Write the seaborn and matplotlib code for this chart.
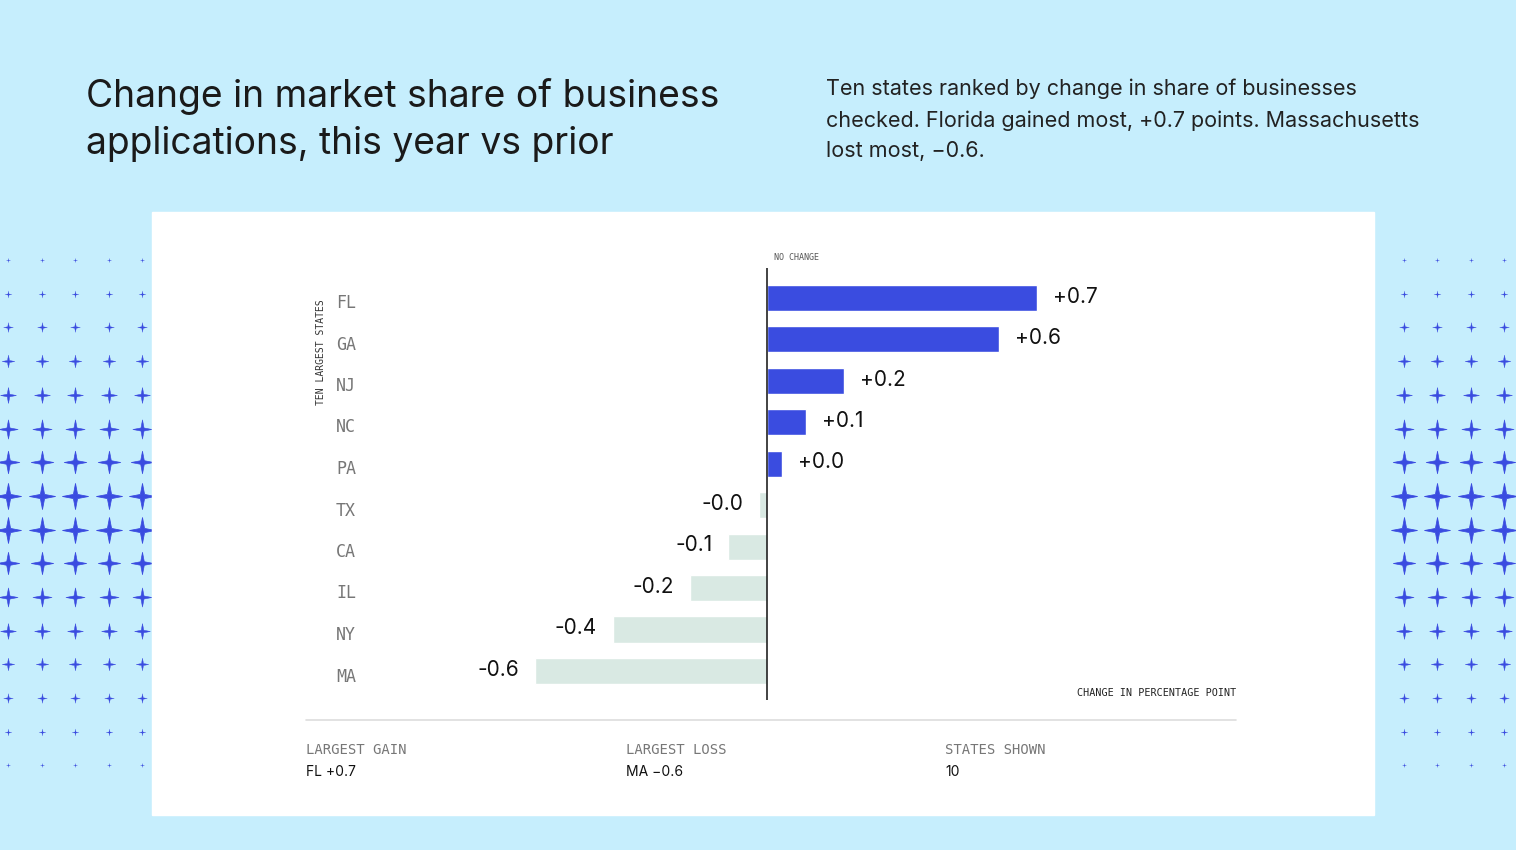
import numpy as np
import pandas as pd
import matplotlib
matplotlib.use("Agg")
import matplotlib.pyplot as plt
import seaborn as sns
from matplotlib.patches import Rectangle
from matplotlib.path import Path

states = ["FL", "GA", "NJ", "NC", "PA", "TX", "CA", "IL", "NY", "MA"]
change = [0.70, 0.60, 0.20, 0.10, 0.04, -0.02, -0.10, -0.20, -0.40, -0.60]
labels = ["+0.7", "+0.6", "+0.2", "+0.1", "+0.0", "-0.0", "-0.1", "-0.2", "-0.4", "-0.6"]

BG = "#c6eefd"
BLUE = "#3a4ce0"
PALE = "#d9e9e3"
W, H = 1516, 850

sns.set_theme(style="white")
plt.rcParams["font.family"] = ["Inter", "DejaVu Sans"]

fig = plt.figure(figsize=(W / 100, H / 100), dpi=100, facecolor=BG)

def fx(x):
    return x / W

def fy(y):
    return 1 - y / H

# background layer in pixel coords
bg = fig.add_axes([0, 0, 1, 1])
bg.set_xlim(0, W)
bg.set_ylim(H, 0)
bg.axis("off")
bg.set_facecolor(BG)

# four-pointed sparkle
k = 0.16
star = Path([(0, 1), (k, k), (1, 0), (k, -k), (0, -1), (-k, -k), (-1, 0), (-k, k), (0, 1)],
            [Path.MOVETO] + [Path.LINETO] * 7 + [Path.CLOSEPOLY])
rows_y = np.arange(260, 770, 33.7)
for y in rows_y:
    s = max(0.0, 1 - abs(y - 512) / 265)
    size = 3 + 17 * s ** 1.2
    for x in [8, 42, 75, 109, 142, 1404, 1437, 1471, 1504]:
        bg.plot(x, y, marker=star, ms=size, color=BLUE, mew=0.6 * s, mec=BLUE)

bg.add_patch(Rectangle((152, 212), 1222, 603, color="white", zorder=3))
bg.plot([306, 1236], [720, 720], color="#dddddd", lw=1.2, zorder=4)

fig.text(fx(86), fy(107), "Change in market share of business", fontsize=26.8,
         color="#1a1a1a", va="baseline")
fig.text(fx(86), fy(154), "applications, this year vs prior", fontsize=26.8,
         color="#1a1a1a", va="baseline")
fig.text(fx(826), fy(120), "Ten states ranked by change in share of businesses\nchecked. Florida gained most, +0.7 points. Massachusetts\nlost most, \u22120.6.",
         fontsize=15.5, color="#222222", va="center", linespacing=1.65)

# main chart axes
left, right, top, bottom = 360, 1240, 268, 700
ax = fig.add_axes([fx(left), fy(bottom), fx(right - left), (bottom - top) / H])
ax.set_zorder(5)
ax.patch.set_alpha(0)
df = pd.DataFrame({"state": states, "change": change,
                   "sign": ["pos" if v > 0 else "neg" for v in change]})
sns.barplot(data=df, x="change", y="state", hue="sign", orient="h",
            palette={"pos": BLUE, "neg": PALE}, width=0.63, legend=False, ax=ax, saturation=1)
scale = 386.0
ax.set_xlim(-(767 - left) / scale, (right - 767) / scale)
ax.set_ylim(9.7, -0.72)
ax.axvline(0, color="#222222", lw=1.2)
for sp in ax.spines.values():
    sp.set_visible(False)
ax.set_xticks([])
ax.set_yticks([])
ax.set_xlabel("")
ax.set_ylabel("")
for i, (st, v, lab) in enumerate(zip(states, change, labels)):
    off = 16 / scale
    if v > 0:
        ax.text(v + off, i - 0.03, lab, ha="left", va="center", fontsize=15, color="#111111")
    else:
        ax.text(v - off, i - 0.03, lab, ha="right", va="center", fontsize=15, color="#111111")
    fig.text(fx(336), fy(303 + i * 41.5), st, fontsize=12, color="#777777",
             family="DejaVu Sans Mono", va="center")

mono = "DejaVu Sans Mono"
fig.text(fx(774), fy(257), "NO CHANGE", fontsize=6, color="#555555", family=mono, va="center")
fig.text(fx(321), fy(352), "TEN LARGEST STATES", fontsize=7, color="#333333", family=mono,
         rotation=90, va="center", ha="center")
fig.text(fx(1236), fy(693), "CHANGE IN PERCENTAGE POINT", fontsize=7.3, color="#222222",
         family=mono, va="center", ha="right")

for x, head, val in [(306, "LARGEST GAIN", "FL +0.7"), (626, "LARGEST LOSS", "MA \u22120.6"),
                     (945, "STATES SHOWN", "10")]:
    fig.text(fx(x), fy(750), head, fontsize=10, color="#777777", family=mono, va="center")
    fig.text(fx(x), fy(772), val, fontsize=10, color="#111111", va="center")

fig.savefig("out.png", dpi=100, facecolor=BG)
